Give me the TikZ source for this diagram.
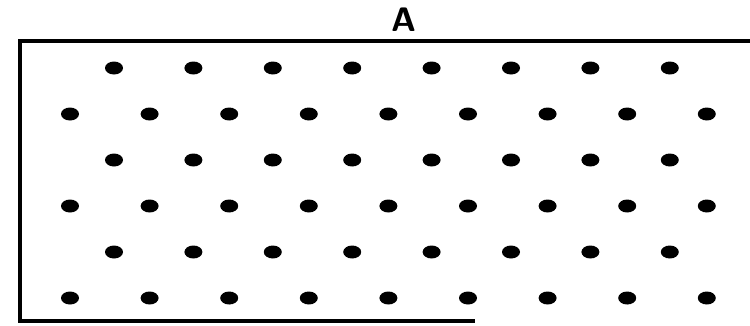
\documentclass[tikz,border=0pt]{standalone}
\tikzset{
  dot/.style={fill=black, draw=none},
  frame/.style={line width=4.5pt, line cap=rect}
}
\begin{document}
\begin{tikzpicture}[x=1pt, y=-1pt]
            \useasboundingbox (0,0) rectangle (750,325);
            % Label
            \node[font=\fontsize{34}{36}\selectfont\sffamily\bfseries, inner sep=0pt] (lbl) at (404, 20) {A};

            % Frame
            \draw[frame] (750, 41) -- (20, 41) -- (20, 321) -- (473, 321);

            % Dots
            \foreach \r in {0,2,4} {
              \foreach \c in {0,...,7} {
                \fill[dot] (114+79.4*\c, 68+46*\r) ellipse [x radius=9, y radius=6.5];
              }
            }
            \foreach \r in {1,3,5} {
              \foreach \c in {0,...,8} {
                \fill[dot] (70+79.6*\c, 68+46*\r) ellipse [x radius=9, y radius=6.5];
              }
            }
        \end{tikzpicture}
\end{document}
